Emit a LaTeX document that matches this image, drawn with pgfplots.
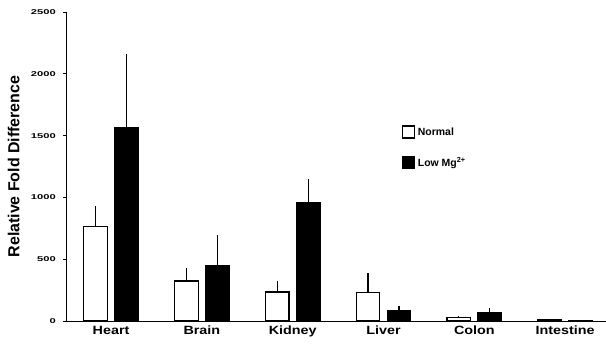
\documentclass[border=0pt]{standalone}
\usepackage{pgfplots}
\pgfplotsset{compat=1.18}
\usepackage{fontspec}
\setmainfont{Liberation Sans}
\newcommand\xs[1]{\scalebox{1.2}[1]{#1}}
\begin{document}
\begin{tikzpicture}[x=1bp,y=1bp]
\begin{axis}[
  at={(0,0)}, anchor=south west,
  width=539bp, height=309bp, scale only axis,
  xmin=-0.485, xmax=5.45, ymin=0, ymax=2500,
  axis x line*=bottom, axis y line*=left,
  axis line style={-, line width=1bp},
  ybar=7.5bp, bar width=23.5bp,
  xtick={0,1,2,3,4,5},
  xticklabels={\xs{Heart},\xs{Brain},\xs{Kidney},\xs{Liver},\xs{Colon},\xs{Intestine}},
  x tick style={draw=none},
  xticklabel style={font=\bfseries\fontsize{12}{12}\selectfont, inner sep=1bp},
  ytick={0,500,1000,1500,2000,2500},
  scaled y ticks=false,
  /pgf/number format/1000 sep={},
  /pgf/number format/assume math mode=true,
  yticklabel={\scalebox{1.6}[1]{\pgfmathprintnumber{\tick}}},
  yticklabel style={font=\bfseries\fontsize{7}{7}\selectfont, inner sep=1bp, xshift=-6bp},
  tick align=outside, major tick length=4bp,
  y tick style={line width=0.8bp, black},
  ylabel={Relative Fold Difference},
  ylabel style={at={(axis description cs:-0.099,0.5)}, anchor=center, font=\bfseries\fontsize{16}{16}\selectfont},
  legend cell align=left,
  legend image code/.code={\draw[#1, bar shift=0pt, bar width=0pt] (0bp,-6bp) rectangle (12bp,6bp);},
  legend style={at={(0.6215,0.635)}, anchor=north west, draw=none, fill=none,
    inner sep=0pt, row sep=16bp, font=\bfseries\fontsize{10.5}{10.5}\selectfont,
    nodes={inner sep=2.5bp}},
  error bars/y dir=plus, error bars/y explicit,
  error bars/error mark=none,
  error bars/error bar style={line width=1.3bp, black},
]
\addplot[draw=black, fill=white, line width=1.2bp] coordinates {
  (0,763) +- (0,167)
  (1,324) +- (0,102)
  (2,235) +- (0,89)
  (3,230) +- (0,157)
  (4,26) +- (0,16)
  (5,8) +- (0,0)
};
\addplot[draw=black, fill=black, line width=1.2bp] coordinates {
  (0,1564) +- (0,594)
  (1,447) +- (0,249)
  (2,957) +- (0,192)
  (3,85) +- (0,40)
  (4,66) +- (0,38)
  (5,3) +- (0,0)
};
\legend{Normal, Low Mg\textsuperscript{2+}}
\end{axis}
\pgfresetboundingbox
\path[use as bounding box] (-67,-24) rectangle (539,321);
\end{tikzpicture}
\end{document}
